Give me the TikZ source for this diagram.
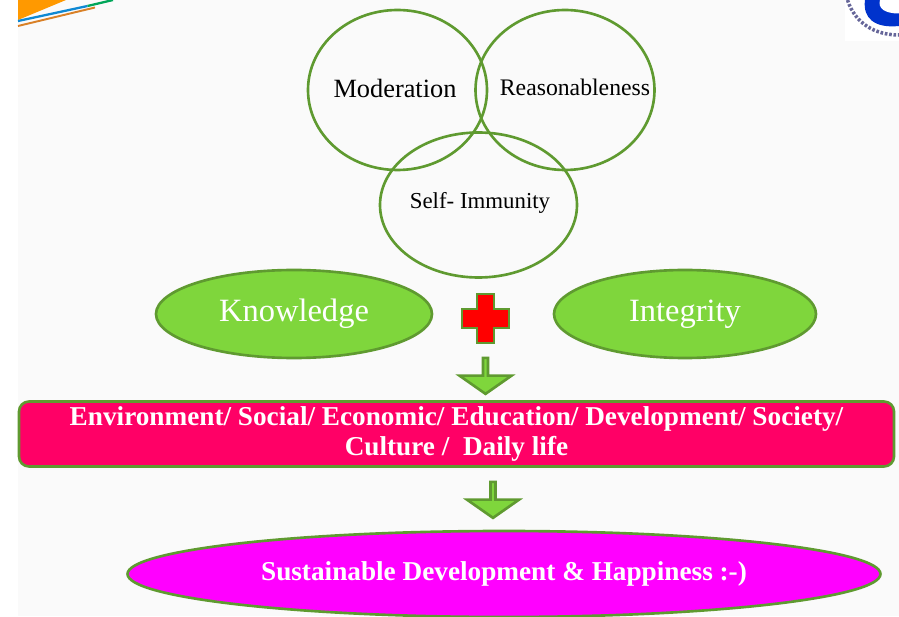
\documentclass[tikz,border=0pt]{standalone}
\usepackage{fontspec}
\setmainfont{Liberation Serif}
\usetikzlibrary{shapes.geometric, shapes.arrows}

\definecolor{leafline}{HTML}{5F9A30}
\definecolor{leaffill}{HTML}{7FD63C}
\definecolor{bandfill}{HTML}{FF0066}
\definecolor{goalfill}{HTML}{FF00FF}
\definecolor{pagegrey}{HTML}{FAFAFA}

\begin{document}
\begin{tikzpicture}[
		ring/.style={ellipse, draw=leafline, line width=1.5pt, inner sep=0pt},
		leaf/.style={ring, fill=leaffill, text=white, font=\fontsize{18.5}{22}\selectfont},
		word/.style={text=black, inner sep=0pt},
		downarrow/.style={single arrow, draw=leafline, fill=leaffill, line width=1.5pt, rotate=-90,
			inner sep=0pt, minimum height=0.72cm, minimum width=1.04cm,
			single arrow head extend=0.25cm, single arrow tip angle=110}
	]
  \useasboundingbox (0cm, 0cm) rectangle (17.98cm, 12.32cm);
  \fill [pagegrey] (0.36cm, 0cm) rectangle (17.98cm, 12.32cm);

  % corner pieces
  \fill [orange!80!yellow] (0.36cm, 12.32cm) -- (1.32cm, 12.32cm) -- (0.36cm, 11.92cm) -- cycle;
  \draw [cyan!70!blue, line width=1.3pt] (0.36cm, 11.9cm) -- (1.75cm, 12.2cm);
  \draw [teal!70!green, line width=1.3pt] (1.75cm, 12.2cm) -- (2.26cm, 12.32cm);
  \draw [orange!70!gray, line width=1.1pt] (0.36cm, 11.8cm) -- (1.9cm, 12.17cm);
  \fill [white] (16.9cm, 11.5cm) rectangle (17.98cm, 12.32cm);
  \fill [blue!60!teal] (17.98cm, 11.8cm) .. controls (17.5cm, 11.75cm) and (17.25cm, 11.95cm) .. (17.3cm, 12.32cm) -- (17.98cm, 12.32cm) -- cycle;
  \fill [white] (17.98cm, 12.05cm) .. controls (17.7cm, 12.05cm) and (17.55cm, 12.15cm) .. (17.6cm, 12.32cm) -- (17.98cm, 12.32cm) -- cycle;
  \draw [gray!80!blue, line width=2pt, dash pattern=on 1.5pt off 1pt] (16.95cm, 12.32cm) .. controls (17.1cm, 11.85cm) and (17.5cm, 11.62cm) .. (17.98cm, 11.62cm);

  % the three rings
  \node (moderation) [ring, minimum width=3.58cm, minimum height=3.2cm] at (7.95cm, 10.52cm) {};
  \node (reasonableness) [ring, minimum width=3.58cm, minimum height=3.2cm] at (11.3cm, 10.52cm) {};
  \node (immunity) [ring, minimum width=3.94cm, minimum height=2.9cm] at (9.57cm, 8.22cm) {};
  \node (moderation_label) [word, font=\fontsize{15}{18}\selectfont] at (7.9cm, 10.56cm) {Moderation};
  \node (reasonableness_label) [word, font=\fontsize{13.5}{16}\selectfont] at (11.5cm, 10.58cm) {Reasonableness};
  \node (immunity_label) [word, font=\fontsize{13}{16}\selectfont] at (9.6cm, 8.26cm) {Self- Immunity};

  \node (knowledge) [leaf, minimum width=5.52cm, minimum height=1.76cm] at (5.88cm, 6.04cm) {Knowledge};
  \node (integrity) [leaf, minimum width=5.24cm, minimum height=1.76cm] at (13.7cm, 6.04cm) {Integrity};

  % plus sign
  \draw [draw=leafline, fill=red, line width=1.5pt]
    (9.54cm, 6.44cm) -- (9.88cm, 6.44cm) -- (9.88cm, 6.14cm) -- (10.18cm, 6.14cm)
    -- (10.18cm, 5.76cm) -- (9.88cm, 5.76cm) -- (9.88cm, 5.46cm) -- (9.54cm, 5.46cm)
    -- (9.54cm, 5.76cm) -- (9.24cm, 5.76cm) -- (9.24cm, 6.14cm) -- (9.54cm, 6.14cm) -- cycle;

  \node (arrow_top) [downarrow] at (9.71cm, 4.82cm) {};

  \node (band) [rectangle, rounded corners=0.2cm, draw=leafline, fill=bandfill, line width=1.5pt,
    text=white, minimum width=17.5cm, minimum height=1.3cm, align=center, inner sep=0pt,
    font=\fontsize{15.5}{17.6}\bfseries\selectfont] at (9.13cm, 3.64cm)
    {Environment/ Social/ Economic/ Education/ Development/ Society/\\Culture /\ \ Daily life};

  \node (arrow_bottom) [downarrow] at (9.86cm, 2.34cm) {};

  \node (goal) [ring, fill=goalfill, text=white, minimum width=15.06cm, minimum height=1.72cm,
    font=\fontsize{15.5}{18}\bfseries\selectfont] at (10.08cm, 0.84cm)
    {Sustainable Development \& Happiness :-)};
\end{tikzpicture}
\end{document}
